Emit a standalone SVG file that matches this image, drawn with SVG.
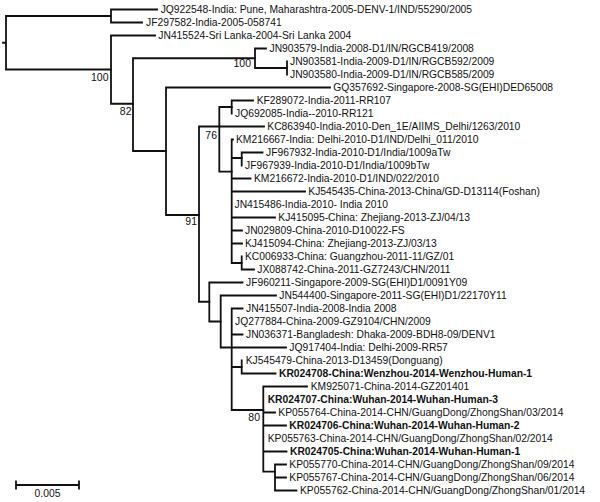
<svg xmlns="http://www.w3.org/2000/svg" width="600" height="502" viewBox="0 0 600 502">
<style>
.t{font-family:"Liberation Sans",Arial,sans-serif;font-size:10.3px;fill:#111}
.b{font-weight:bold}
.bs{font-family:"Liberation Sans",Arial,sans-serif;font-size:10.5px;fill:#111;text-anchor:end}
.e{fill:none;stroke:#111;stroke-width:1.8;stroke-linecap:square}
</style>
<rect width="600" height="502" fill="#fff"/>
<g id="connectors" class="e">
<path d="M3,42.75H6M6,16V69.5M6,16H111M6,69.5H111"/>
<path d="M111,9.5V22.5M111,9.5H157M111,22.5H142"/>
<path d="M111,35.5V103.75M111,35.5H155M111,103.75H133"/>
<path d="M133,58.25V151M133,58.25H255M133,151H166"/>
<path d="M255,48.5V68M255,48.5H266M255,68H287"/>
<path d="M287,61.5V74.5"/>
<path d="M166,87.5V215M166,87.5H330M166,215H199"/>
<path d="M199,126.5V301.75M199,126.5H264M199,301.75H209.3"/>
<path d="M219.3,107V171.7M219.3,107H231.7M219.3,171.7H231.7"/>
<path d="M231.7,100.5V113.5M231.7,100.5H253"/>
<path d="M231.7,139.5V263M231.7,139.5H233M231.7,158H241.7M231.7,178.5H250.5M231.7,191.5H305M231.7,217.5H275M231.7,230.5H242M231.7,243.5H242M231.7,263H241.7"/>
<path d="M241.7,152.5V165.5M241.7,152.5H262.5"/>
<path d="M241.7,256.5V269.5M241.7,269.5H254"/>
<path d="M209.3,282.5V321.5M209.3,282.5H242.5M209.3,321.5H220.7"/>
<path d="M220.7,295.5V347.5M220.7,295.5H276M220.7,347.5H286"/>
<path d="M231.7,308.5V410M231.7,308.5H242.5M231.7,334.5H242.5M231.7,367H241.7M231.7,410H263.3"/>
<path d="M241.7,360.5V373.5M241.7,373.5H275.5"/>
<path d="M263.3,386.5V471.7M263.3,386.5H307M263.3,412.5H275M263.3,425.5H286M263.3,451.5H286.5M263.3,471.7H275"/>
<path d="M275,464.5V490.5M275,464.5H286M275,477.5H286M275,490.5H296.5"/>
</g>
<g id="bootstrap">
<text class="bs" x="108.5" y="81.3">100</text>
<text class="bs" x="131.5" y="115">82</text>
<text class="bs" x="251" y="67.3">100</text>
<text class="bs" x="217" y="139">76</text>
<text class="bs" x="197" y="224.7">91</text>
<text class="bs" x="260" y="421.3">80</text>
</g>
<g id="n01"><text class="t" x="160.7" y="13.3">JQ922548-India: Pune, Maharashtra-2005-DENV-1/IND/55290/2005</text></g>
<g id="n02"><text class="t" x="146" y="26.3">JF297582-India-2005-058741</text></g>
<g id="n03"><text class="t" x="158.3" y="39.3">JN415524-Sri Lanka-2004-Sri Lanka 2004</text></g>
<g id="n04"><text class="t" x="269.5" y="52.3">JN903579-India-2008-D1/IN/RGCB419/2008</text></g>
<g id="n05"><text class="t" x="290" y="65.3">JN903581-India-2009-D1/IN/RGCB592/2009</text></g>
<g id="n06"><text class="t" x="290" y="78.3">JN903580-India-2009-D1/IN/RGCB585/2009</text></g>
<g id="n07"><text class="t" x="333.3" y="91.3">GQ357692-Singapore-2008-SG(EHI)DED65008</text></g>
<g id="n08"><text class="t" x="256.7" y="104.3">KF289072-India-2011-RR107</text></g>
<g id="n09"><text class="t" x="235" y="117.3">JQ692085-India--2010-RR121</text></g>
<g id="n10"><text class="t" x="267.3" y="130.3">KC863940-India-2010-Den_1E/AIIMS_Delhi/1263/2010</text></g>
<g id="n11"><text class="t" x="236" y="143.3">KM216667-India: Delhi-2010-D1/IND/Delhi_011/2010</text></g>
<g id="n12"><text class="t" x="266" y="156.3">JF967932-India-2010-D1/India/1009aTw</text></g>
<g id="n13"><text class="t" x="245" y="169.3">JF967939-India-2010-D1/India/1009bTw</text></g>
<g id="n14"><text class="t" x="254" y="182.3">KM216672-India-2010-D1/IND/022/2010</text></g>
<g id="n15"><text class="t" x="308.3" y="195.3">KJ545435-China-2013-China/GD-D13114(Foshan)</text></g>
<g id="n16"><text class="t" x="234.5" y="208.3">JN415486-India-2010- India 2010</text></g>
<g id="n17"><text class="t" x="278.3" y="221.3">KJ415095-China: Zhejiang-2013-ZJ/04/13</text></g>
<g id="n18"><text class="t" x="245" y="234.3">JN029809-China-2010-D10022-FS</text></g>
<g id="n19"><text class="t" x="245" y="247.3">KJ415094-China: Zhejiang-2013-ZJ/03/13</text></g>
<g id="n20"><text class="t" x="245" y="260.3">KC006933-China: Guangzhou-2011-11/GZ/01</text></g>
<g id="n21"><text class="t" x="257.3" y="273.3">JX088742-China-2011-GZ7243/CHN/2011</text></g>
<g id="n22"><text class="t" x="246" y="286.3">JF960211-Singapore-2009-SG(EHI)D1/0091Y09</text></g>
<g id="n23"><text class="t" x="279.3" y="299.3">JN544400-Singapore-2011-SG(EHI)D1/22170Y11</text></g>
<g id="n24"><text class="t" x="246" y="312.3">JN415507-India-2008-India 2008</text></g>
<g id="n25"><text class="t" x="235" y="325.3">JQ277884-China-2009-GZ9104/CHN/2009</text></g>
<g id="n26"><text class="t" x="246" y="338.3">JN036371-Bangladesh: Dhaka-2009-BDH8-09/DENV1</text></g>
<g id="n27"><text class="t" x="289.3" y="351.3">JQ917404-India: Delhi-2009-RR57</text></g>
<g id="n28"><text class="t" x="245.7" y="364.3">KJ545479-China-2013-D13459(Donguang)</text></g>
<g id="n29"><text class="t b" x="279" y="377.3">KR024708-China:Wenzhou-2014-Wenzhou-Human-1</text></g>
<g id="n30"><text class="t" x="310.7" y="390.3">KM925071-China-2014-GZ201401</text></g>
<g id="n31"><text class="t b" x="267.7" y="403.3">KR024707-China:Wuhan-2014-Wuhan-Human-3</text></g>
<g id="n32"><text class="t" x="278.3" y="416.3">KP055764-China-2014-CHN/GuangDong/ZhongShan/03/2014</text></g>
<g id="n33"><text class="t b" x="289.3" y="429.3">KR024706-China:Wuhan-2014-Wuhan-Human-2</text></g>
<g id="n34"><text class="t" x="267.7" y="442.3">KP055763-China-2014-CHN/GuangDong/ZhongShan/02/2014</text></g>
<g id="n35"><text class="t b" x="290" y="455.3">KR024705-China:Wuhan-2014-Wuhan-Human-1</text></g>
<g id="n36"><text class="t" x="289.3" y="468.3">KP055770-China-2014-CHN/GuangDong/ZhongShan/09/2014</text></g>
<g id="n37"><text class="t" x="289.3" y="481.3">KP055767-China-2014-CHN/GuangDong/ZhongShan/06/2014</text></g>
<g id="n38"><text class="t" x="300" y="494.3">KP055762-China-2014-CHN/GuangDong/ZhongShan/01/2014</text></g>
<g id="scalebar">
<path class="e" d="M16,485H79M16,481.5V488.5M79,481.5V488.5"/>
<text class="t" x="47.5" y="497" text-anchor="middle">0.005</text>
</g>
</svg>
